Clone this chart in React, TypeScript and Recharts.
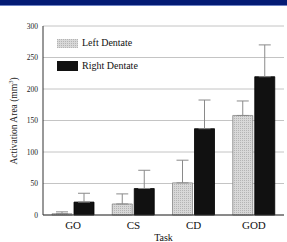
import React from 'react';
import {
  BarChart,
  Bar,
  XAxis,
  YAxis,
  CartesianGrid,
  ErrorBar,
  Legend,
} from 'recharts';

// values (mm^3)
const tasks = ['GO', 'CS', 'CD', 'GOD'];
const leftDentate = [2, 17.5, 51, 158];
const leftErr = [3, 16, 36, 23];
const rightDentate = [20.5, 42, 137, 219.5];
const rightErr = [14, 29, 45.5, 50.5];
const yTicks = [0, 50, 100, 150, 200, 250, 300];

const data = tasks.map((task, i) => ({
  task,
  left: leftDentate[i],
  leftErr: [0, leftErr[i]],
  right: rightDentate[i],
  rightErr: [0, rightErr[i]],
}));

const FONT = '"Liberation Serif", "Times New Roman", serif';

const LegendBox = () => (
  <div style={{ fontFamily: FONT, fontSize: 10, color: '#111', lineHeight: '10px', whiteSpace: 'nowrap' }}>
    <div style={{ display: 'flex', alignItems: 'center', marginBottom: 13 }}>
      <svg width={21} height={9} style={{ marginRight: 4 }}>
        <rect width={21} height={9} fill="url(#stipple)" />
      </svg>
      Left Dentate
    </div>
    <div style={{ display: 'flex', alignItems: 'center' }}>
      <svg width={21} height={10} style={{ marginRight: 4 }}>
        <rect width={21} height={10} fill="#111" />
      </svg>
      Right Dentate
    </div>
  </div>
);

export default function App() {
  return (
    <div
      style={{
        position: 'fixed',
        top: 0,
        left: 0,
        width: 287,
        height: 242,
        background: '#fff',
        overflow: 'hidden',
      }}
    >
      <div style={{ position: 'absolute', top: 0, left: 0, width: 287, height: 5, background: '#041b74' }} />
      <div style={{ position: 'absolute', top: 5, left: 0, width: 287, height: 1, background: '#6e83c4' }} />
      <BarChart
        width={287}
        height={242}
        data={data}
        margin={{ top: 26, right: 3, bottom: 0, left: 0 }}
        barSize={20}
        barGap={2}
        style={{ fontFamily: FONT }}
      >
        <defs>
          <pattern id="stipple" width="2" height="2" patternUnits="userSpaceOnUse">
            <rect width="2" height="2" fill="#d8d8d8" />
            <rect width="1" height="1" fill="#b4b4b4" />
          </pattern>
        </defs>
        <CartesianGrid vertical={false} stroke="#c4c4c4" />
        <XAxis
          dataKey="task"
          height={27}
          tickLine={false}
          tickSize={4}
          tickMargin={2}
          axisLine={{ stroke: '#333' }}
          tick={{ fontSize: 11, fill: '#111', fontFamily: FONT }}
          label={{ value: 'Task', position: 'insideBottom', offset: 1, fontSize: 10, fill: '#111', fontFamily: FONT }}
        />
        <XAxis xAxisId="top" orientation="top" dataKey="task" height={0} tick={false} tickLine={false} axisLine={{ stroke: '#888' }} />
        <YAxis
          width={43}
          domain={[0, 300]}
          ticks={yTicks}
          interval={0}
          tickLine={false}
          tickSize={3}
          tickMargin={2}
          axisLine={{ stroke: '#333' }}
          tick={{ fontSize: 7.5, fill: '#222', fontFamily: FONT }}
          label={{
            content: () => (
              <text
                transform="translate(17,121) rotate(-90)"
                textAnchor="middle"
                fontSize={9.5}
                fill="#222"
                fontFamily={FONT}
              >
                Activation Area (mm
                <tspan fontSize={6.5} dy={-4}>3</tspan>
                <tspan dy={4}>)</tspan>
              </text>
            ),
          }}
        />
        <YAxis yAxisId="right" orientation="right" width={0} domain={[0, 300]} tick={false} tickLine={false} axisLine={{ stroke: '#888' }} />
        <Legend
          layout="vertical"
          verticalAlign="middle"
          align="center"
          wrapperStyle={{ left: 57, top: 38, width: 'auto', height: 'auto' }}
          content={() => <LegendBox />}
        />
        <Bar dataKey="left" name="Left Dentate" fill="url(#stipple)" stroke="#888" strokeWidth={0.8} isAnimationActive={false}>
          <ErrorBar dataKey="leftErr" direction="y" width={6} stroke="#8a8a8a" strokeWidth={1} />
        </Bar>
        <Bar dataKey="right" name="Right Dentate" fill="#111" stroke="#000" strokeWidth={0.8} isAnimationActive={false}>
          <ErrorBar dataKey="rightErr" direction="y" width={6} stroke="#8a8a8a" strokeWidth={1} />
        </Bar>
      </BarChart>
    </div>
  );
}
